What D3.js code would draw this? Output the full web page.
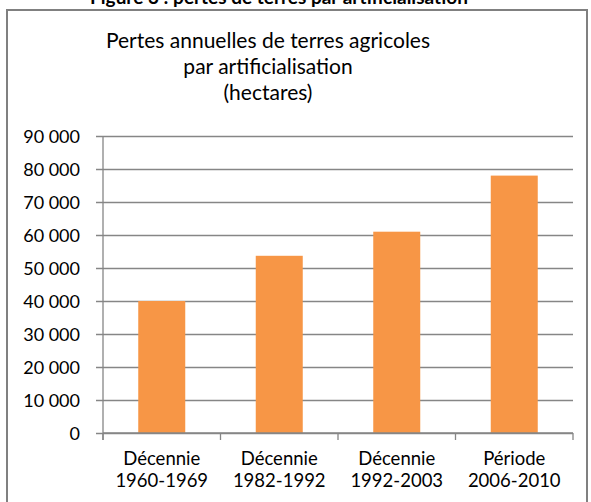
<!DOCTYPE html>
<html>
<head>
<meta charset="utf-8">
<script src="https://cdn.jsdelivr.net/npm/d3@7"></script>
<style>
  body { margin: 0; background: #fff; }
  text { font-family: Lato, "Open Sans", sans-serif; fill: #000; }
</style>
</head>
<body>
<script>
// données
const periodes = [["Décennie", "1960-1969"], ["Décennie", "1982-1992"], ["Décennie", "1992-2003"], ["Période", "2006-2010"]];
const pertes = [40000, 53700, 61000, 78000];
const ticksY = [0, 10000, 20000, 30000, 40000, 50000, 60000, 70000, 80000, 90000];
const titre = ["Pertes annuelles de terres agricoles", "par artificialisation", "(hectares)"];
const titreFigure = "Figure 3 : pertes de terres par artificialisation";

const W = 591, H = 502;
const margin = { top: 136, right: 18, bottom: 69, left: 103 };
const width = W - margin.left - margin.right,
      height = H - margin.top - margin.bottom;

const svg = d3.select("body").append("svg")
    .attr("width", W)
    .attr("height", H);

// titre de la figure (coupé en haut, comme sur l'original)
svg.append("text")
    .text(titreFigure)
    .attr("x", 279).attr("y", 4)
    .attr("text-anchor", "middle")
    .style("font-weight", "bold")
    .style("font-size", "19px");

// cadre
svg.append("rect")
    .attr("x", 7).attr("y", 10)
    .attr("width", 580).attr("height", 500)
    .attr("fill", "none")
    .attr("stroke", "#808080")
    .attr("stroke-width", 2);

// titre du graphique
svg.append("g").selectAll("text")
    .data(titre)
    .enter()
    .append("text")
    .attr("x", 268)
    .attr("y", (d, i) => 48 + i * 26)
    .attr("text-anchor", "middle")
    .style("font-size", "21px")
    .text(d => d);

const g = svg.append("g")
    .attr("transform", "translate(" + margin.left + "," + margin.top + ")");

// échelles
const x = d3.scaleBand()
    .domain(d3.range(periodes.length))
    .range([0, width])
    .paddingInner(0.6)
    .paddingOuter(0.3);

const y = d3.scaleLinear()
    .domain([0, 90000])
    .range([height, 0]);

const fmt = d => d3.format(",")(d).replace(",", " ");

// axe Y + grille
const axeY = g.append("g")
    .call(d3.axisLeft(y).tickValues(ticksY).tickSize(-width).tickSizeOuter(0).tickFormat(fmt));
axeY.select(".domain").remove();
axeY.selectAll("line")
    .attr("x1", -7)
    .attr("stroke", "#868686")
    .attr("stroke-width", 1.3);
axeY.selectAll("text")
    .attr("x", -23)
    .attr("dy", "0.35em")
    .style("font-size", "18px")
    .style("font-family", "Lato, sans-serif");

// ligne verticale de l'axe
g.append("line")
    .attr("x1", 0).attr("x2", 0)
    .attr("y1", 0).attr("y2", height + 7)
    .attr("stroke", "#868686")
    .attr("stroke-width", 1.3);

// barres
g.selectAll("rect.barre")
    .data(pertes)
    .enter()
    .append("rect")
    .attr("class", "barre")
    .attr("x", (d, i) => x(i))
    .attr("y", d => y(d))
    .attr("width", x.bandwidth())
    .attr("height", d => height - y(d))
    .attr("fill", "#F79646");

// axe X
const pas = width / periodes.length;
const axeX = g.append("g")
    .attr("transform", "translate(0," + height + ")");
axeX.append("line")
    .attr("x1", 0).attr("x2", width)
    .attr("stroke", "#868686").attr("stroke-width", 1.3);
axeX.selectAll("line.tick")
    .data(d3.range(periodes.length + 1))
    .enter()
    .append("line")
    .attr("class", "tick")
    .attr("x1", d => d * pas).attr("x2", d => d * pas)
    .attr("y1", 0).attr("y2", 7)
    .attr("stroke", "#868686").attr("stroke-width", 1.3);

const labels = axeX.selectAll("text")
    .data(periodes)
    .enter()
    .append("text")
    .attr("text-anchor", "middle")
    .attr("transform", (d, i) => "translate(" + (x(i) + x.bandwidth() / 2) + ",0)")
    .style("font-size", "18.5px");
labels.append("tspan").attr("x", 0).attr("y", 32).text(d => d[0]);
labels.append("tspan").attr("x", 0).attr("y", 54).text(d => d[1]);
</script>
</body>
</html>
